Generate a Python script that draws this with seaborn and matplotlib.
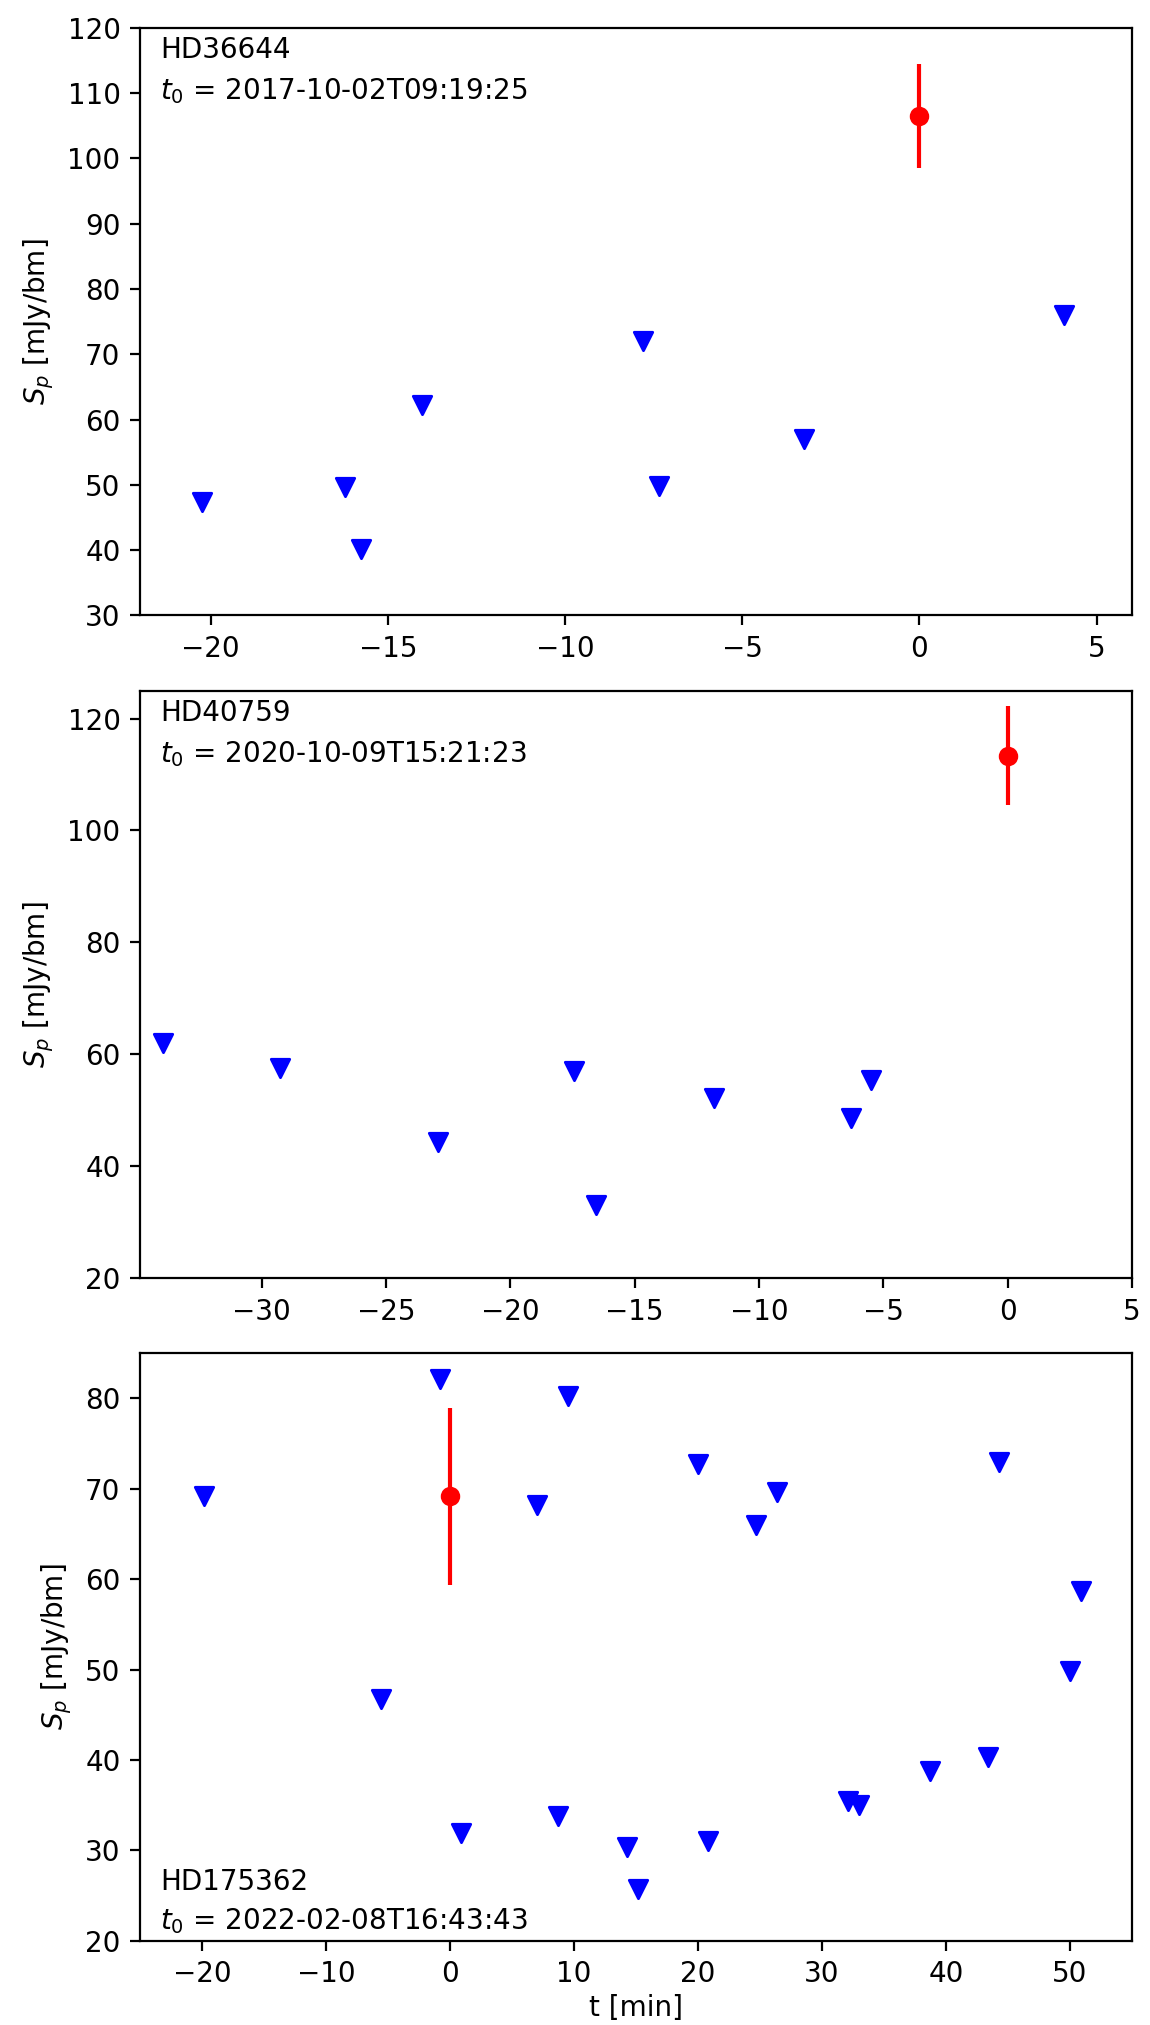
import numpy as np
import matplotlib
matplotlib.use('Agg')
import matplotlib.pyplot as plt
import seaborn as sns

''' DATA '''
# HD36644 - upper limits (triangles) and detection (red point)
hd36644_t = [-20.25, -16.2, -15.75, -14.03, -7.81, -7.34, -3.25, 4.08]
hd36644_s = [47.35, 49.7, 40.2, 62.2, 72.1, 49.8, 57.1, 76.1]
hd36644_det = [0.0, 106.5, 7.9]      # t, S_p, error

# HD40759
hd40759_t = [-33.97, -29.25, -22.9, -17.43, -16.57, -11.8, -6.3, -5.5]
hd40759_s = [62.1, 57.5, 44.3, 57.0, 33.0, 52.1, 48.6, 55.4]
hd40759_det = [0.0, 113.4, 8.9]

# HD175362
hd175362_t = [-19.8, -5.6, -0.77, 0.9, 7.0, 8.7, 9.5, 14.3, 15.2, 20.0,
              20.8, 24.7, 26.4, 32.1, 33.0, 38.7, 43.4, 44.3, 50.0, 50.9]
hd175362_s = [69.2, 46.7, 82.2, 31.9, 68.2, 33.8, 80.3, 30.4, 25.7, 72.7,
              31.0, 66.0, 69.6, 35.5, 35.0, 38.8, 40.3, 73.0, 49.8, 58.7]
hd175362_det = [0.0, 69.2, 9.8]

stars = ['HD36644', 'HD40759', 'HD175362']
t0s = ['2017-10-02T09:19:25', '2020-10-09T15:21:23', '2022-02-08T16:43:43']
xlims = [(-22, 6), (-34.9, 5), (-25, 55)]
ylims = [(30, 120), (20, 125), (20, 85)]

''' PLOT '''
fig, axes = plt.subplots(3, 1, figsize=(5.75, 10.125), dpi=200)
fig.subplots_adjust(left=0.1217, right=0.9843, top=0.9862, bottom=0.0416, hspace=0.128)

panels = [(hd36644_t, hd36644_s, hd36644_det),
          (hd40759_t, hd40759_s, hd40759_det),
          (hd175362_t, hd175362_s, hd175362_det)]

# baseline positions (axes fraction) of the star name / t0 lines
text_y = [(0.948, 0.878), (0.948, 0.878), (0.087, 0.019)]

for i, (ax, (t, s, det)) in enumerate(zip(axes, panels)):
    sns.scatterplot(x=t, y=s, marker='v', color='blue', s=44,
                    edgecolor='blue', linewidth=1, ax=ax, zorder=3)
    ax.errorbar(det[0], det[1], yerr=det[2], fmt='o', color='red',
                ms=6, lw=1.5, zorder=4)
    ax.set_xlim(xlims[i])
    ax.set_ylim(ylims[i])
    ax.set_ylabel('$S_p$ [mJy/bm]')
    ax.text(0.02, text_y[i][0], stars[i], transform=ax.transAxes,
            va='baseline', ha='left')
    ax.text(0.02, text_y[i][1], '$t_0$ = ' + t0s[i], transform=ax.transAxes,
            va='baseline', ha='left')

axes[-1].set_xlabel('t [min]', labelpad=2)

plt.savefig('out.png', dpi=200)
